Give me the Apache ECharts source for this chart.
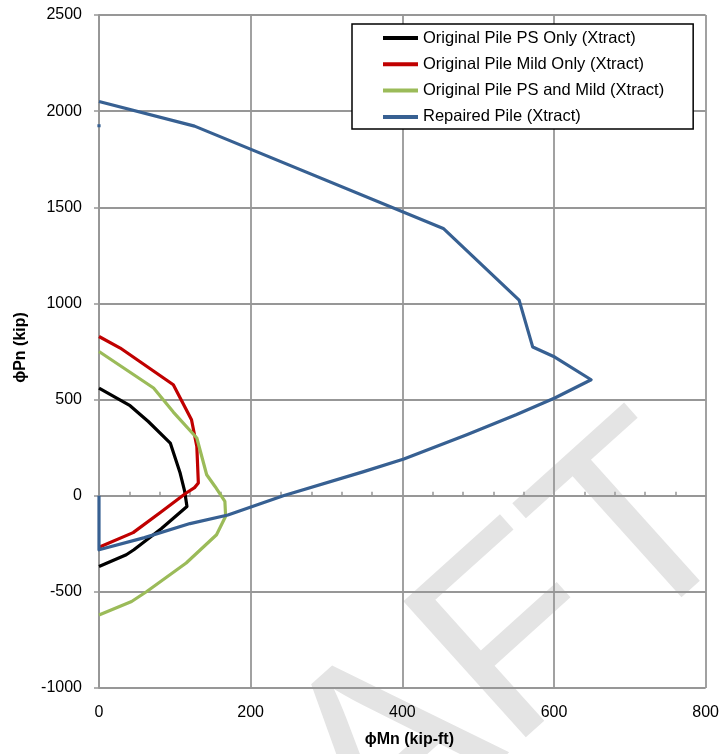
<!DOCTYPE html>
<html>
<head>
<meta charset="utf-8">
<script src="https://cdn.jsdelivr.net/npm/echarts@6/dist/echarts.min.js"></script>
<style>
html,body{margin:0;padding:0;background:#fff;}
#c{width:722px;height:754px;}
</style>
</head>
<body>
<div id="c"></div>
<script>
// ---- data ----
const seriesNames = [
  'Original Pile PS Only (Xtract)',
  'Original Pile Mild Only (Xtract)',
  'Original Pile PS and Mild (Xtract)',
  'Repaired Pile (Xtract)'
];
const psOnly = [[0,560],[41,468],[65,386],[94,274],[107,118],[113,22],[116,-56],[82,-172],[46,-281],[36,-307],[0,-368]];
const mildOnly = [[0,828],[28,768],[98,577],[122,395],[129,256],[131,66],[126,42],[115,14],[80,-90],[45,-192],[0,-268]];
const psAndMild = [[0,750],[72,560],[98,435],[129,300],[142,109],[153,48],[166,-29],[167,-107],[155,-203],[115,-350],[63,-498],[43,-550],[0,-620]];
const repaired = [[0,2050],[126,1922],[454,1390],[554,1017],[572,773],[601,721],[649,603],[601,508],[550,421],[485,317],[402,191],[348,124],[243,0],[170,-100],[120,-145],[60,-218],[0,-281],[0,0]];
const repairedDot = [[0,1932],[0,1916]];
const xRange = [0, 800, 200];      // min, max, interval
const yRange = [-1000, 2500, 500]; // min, max, interval
const xTitle = 'ϕMn (kip-ft)';
const yTitle = 'ϕPn (kip)';
const watermark = 'DRAFT';

const colors = ['#000000', '#C00000', '#9BBB59', '#376092'];
const gridColor = '#979797';
const FONT = 'Liberation Sans';

const chart = echarts.init(document.getElementById('c'), null, {renderer: 'canvas'});

function lineSeries(name, data, color) {
  return {
    name: name, type: 'line', data: data, showSymbol: false, symbol: 'none',
    smooth: false, clip: true, z: 3,
    lineStyle: {color: color, width: 3.2, join: 'round', cap: 'butt'},
    itemStyle: {color: color},
    emphasis: {disabled: true}
  };
}
const plain = v => String(v);

const option = {
  backgroundColor: '#ffffff',
  animation: false,
  grid: {left: 99, right: 16, top: 15, bottom: 66, containLabel: false},
  graphic: {
    elements: [{
      type: 'text', z: -10, silent: true,
      x: 702, y: 480, rotation: 42 * Math.PI / 180,
      style: {
        text: watermark, x: 0, y: 0, align: 'right', verticalAlign: 'middle',
        font: 'normal 266px "Liberation Sans"', fill: '#e4e4e4'
      }
    }]
  },
  legend: {
    data: seriesNames, orient: 'vertical', left: 352, top: 24,
    icon: 'rect', itemWidth: 35, itemHeight: 4, itemGap: 8.3,
    padding: [5, 29, 3, 31], borderColor: '#000', borderWidth: 1.5,
    backgroundColor: '#fff',
    textStyle: {fontFamily: FONT, fontSize: 16.5, color: '#000', lineHeight: 18}
  },
  xAxis: [{
    type: 'value', min: xRange[0], max: xRange[1], interval: xRange[2], position: 'bottom',
    name: xTitle, nameLocation: 'middle', nameGap: 44,
    nameTextStyle: {fontFamily: FONT, fontSize: 16, fontWeight: 'bold', color: '#000', padding: [0, 0, 0, 14]},
    axisLine: {show: false, onZero: false},
    axisTick: {show: false},
    axisLabel: {fontFamily: FONT, fontSize: 16, color: '#000', margin: 17, formatter: plain},
    splitLine: {show: true, lineStyle: {color: gridColor, width: 1.8}}
  }, {
    type: 'value', min: xRange[0], max: xRange[1], interval: xRange[2], position: 'bottom',
    axisLine: {show: true, onZero: true, onZeroAxisIndex: 0, lineStyle: {color: gridColor, width: 1.8}},
    axisTick: {show: false, inside: true},
    minorTick: {show: true, splitNumber: 5, length: 4, lineStyle: {color: gridColor, width: 1.5}},
    axisLabel: {show: false},
    splitLine: {show: false}
  }],
  yAxis: {
    type: 'value', min: yRange[0], max: yRange[1], interval: yRange[2],
    name: yTitle, nameLocation: 'middle', nameGap: 70, nameRotate: 90,
    nameTextStyle: {fontFamily: FONT, fontSize: 16, fontWeight: 'bold', color: '#000', padding: [0, 0, 0, 8]},
    axisLine: {show: true, onZero: false, lineStyle: {color: gridColor, width: 1.8}},
    axisTick: {show: true, length: 5, lineStyle: {color: gridColor, width: 1.5}},
    axisLabel: {fontFamily: FONT, fontSize: 16, color: '#000', margin: 17, formatter: plain},
    splitLine: {show: true, lineStyle: {color: gridColor, width: 1.8}}
  },
  series: [
    lineSeries(seriesNames[0], psOnly, colors[0]),
    lineSeries(seriesNames[1], mildOnly, colors[1]),
    lineSeries(seriesNames[2], psAndMild, colors[2]),
    lineSeries(seriesNames[3], repaired, colors[3]),
    lineSeries(seriesNames[3], repairedDot, colors[3])
  ]
};
chart.setOption(option);
</script>
</body>
</html>
